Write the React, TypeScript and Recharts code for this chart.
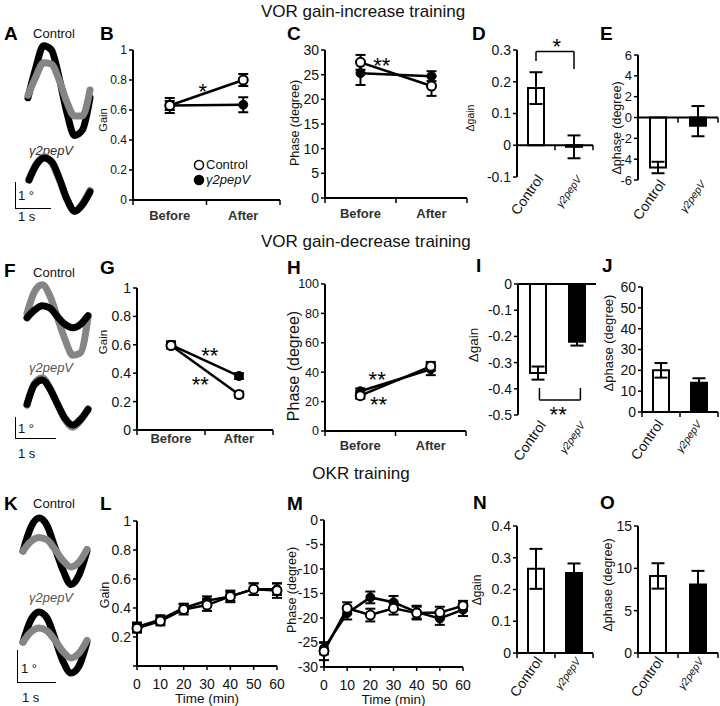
import React from 'react';
import {
  LineChart,
  Line,
  BarChart,
  Bar,
  Cell,
  XAxis,
  YAxis,
  ErrorBar,
  ReferenceLine,
  ReferenceDot,
  Legend,
} from 'recharts';

const FONT = '"Liberation Sans", Arial, Helvetica, sans-serif';
const INK = '#111';
const GRAY = '#858585';

const phases = ['Before', 'After'];
const groups = ['Control', 'γ2pepV'];
const minutes = [0, 10, 20, 30, 40, 50, 60];

// B – gain, gain-increase
const gainUpCtrl = [0.63, 0.8];
const gainUpCtrlErr = [0.05, 0.04];
const gainUpPep = [0.63, 0.635];
const gainUpPepErr = [0.03, 0.05];
// C – phase, gain-increase
const phaseUpCtrl = [27.5, 22.7];
const phaseUpCtrlErr = [1.5, 2];
const phaseUpPep = [25.3, 24.7];
const phaseUpPepErr = [2.4, 1];
// D, E – deltas, gain-increase ([down, up] errors)
const dGainUp = [0.18, -0.005];
const dGainUpErr = [[0.05, 0.05], [0.036, 0.036]];
const dPhaseUp = [-4.8, -0.8];
const dPhaseUpErr = [[0.55, 0.55], [1.0, 1.9]];
// G – gain, gain-decrease
const gainDownCtrl = [0.595, 0.25];
const gainDownCtrlErr = [0.02, 0.02];
const gainDownPep = [0.6, 0.38];
const gainDownPepErr = [0.025, 0.02];
// H – phase, gain-decrease
const phaseDownCtrl = [24, 44];
const phaseDownCtrlErr = [2, 3];
const phaseDownPep = [27, 42];
const phaseDownPepErr = [2, 4];
// I, J – deltas, gain-decrease
const dGainDown = [-0.34, -0.22];
const dGainDownErr = [[0.025, 0.025], [0.015, 0.015]];
const dPhaseDown = [20, 14];
const dPhaseDownErr = [[3.5, 3.5], [2.2, 2.2]];
// L – OKR gain
const okrGainCtrl = [0.26, 0.31, 0.39, 0.42, 0.48, 0.53, 0.52];
const okrGainCtrlErr = [0.03, 0.03, 0.035, 0.04, 0.04, 0.04, 0.05];
const okrGainPep = [0.27, 0.32, 0.4, 0.45, 0.48, 0.53, 0.53];
const okrGainPepErr = [0.03, 0.03, 0.03, 0.03, 0.03, 0.04, 0.04];
// M – OKR phase
const okrPhaseCtrl = [-26.8, -18, -19.4, -18, -19, -18.9, -17.5];
const okrPhaseCtrlErr = [1.8, 1.2, 1.3, 1.3, 1.3, 1.2, 1];
const okrPhasePep = [-26.2, -19, -15.8, -16.8, -18.8, -20.1, -18.3];
const okrPhasePepErr = [1.2, 1.3, 1.2, 1.3, 1.3, 1.3, 1.3];
// N, O – OKR deltas
const dGainOkr = [0.265, 0.252];
const dGainOkrErr = [[0.063, 0.063], [0.03, 0.03]];
const dPhaseOkr = [9.1, 8.1];
const dPhaseOkrErr = [[1.5, 1.5], [1.6, 1.6]];

// eye-movement traces (deg), 9 samples over one cycle
const traceAUpBlack = [-0.3, 0.85, 1.7, 1.55, 0.5, -0.85, -1.75, -1.55, -0.3];
const traceAUpGray = [-0.2, 0.5, 1.05, 1.0, 0.4, -0.45, -1.0, -1.0, 0];
const traceAPepBlack = [0.15, 0.75, 1.0, 0.85, 0.2, -0.6, -1.05, -0.8, -0.3];
const traceAPepGray = [0.2, 0.8, 1.05, 0.8, 0.15, -0.6, -1.05, -0.75, -0.25];
const traceFCtrlBlack = [0.1, 0.45, 0.65, 0.55, 0.15, -0.2, -0.35, -0.2, 0.2];
const traceFCtrlGray = [0.3, 1.3, 1.6, 1.1, 0.1, -0.9, -1.6, -1.5, 0.1];
const traceFPepBlack = [-0.1, 0.8, 1.0, 0.6, -0.1, -0.75, -1.05, -0.8, -0.35];
const traceFPepGray = [-0.15, 0.85, 1.1, 0.65, -0.1, -0.8, -1.15, -0.85, -0.3];
const traceKCtrlBlack = [0, 0.75, 1.03, 0.8, 0.1, -0.6, -1.05, -0.75, 0];
const traceKCtrlGray = [0, 0.3, 0.42, 0.35, 0.05, -0.3, -0.5, -0.35, 0.05];
const traceKPepBlack = [0, 0.7, 0.94, 0.75, 0.1, -0.6, -0.97, -0.75, 0];
const traceKPepGray = [0, 0.32, 0.44, 0.35, 0.05, -0.3, -0.5, -0.35, 0.05];

const pairRows = (ctrl: number[], ctrlErr: number[], pep: number[], pepErr: number[]) =>
  phases.map((phase, i) => ({ phase, x: i + 0.5, ctrl: ctrl[i], ctrlErr: ctrlErr[i], pep: pep[i], pepErr: pepErr[i] }));

const timeRows = (ctrl: number[], ctrlErr: number[], pep: number[], pepErr: number[]) =>
  minutes.map((t, i) => ({ t, ctrl: ctrl[i], ctrlErr: ctrlErr[i], pep: pep[i], pepErr: pepErr[i] }));

const barRows = (vals: number[], errs: number[][]) =>
  groups.map((group, i) => ({ group, x: i + 0.5, v: vals[i], err: errs[i] }));

type Box = { l: number; t: number; r: number; b: number };
const PAD_L = 70;
const PAD_R = 14;

function frame(box: Box, bottom: number, padT = 14) {
  return {
    style: { position: 'absolute' as const, left: box.l - PAD_L, top: box.t - padT },
    width: PAD_L + box.r - box.l + PAD_R,
    height: padT + box.b - box.t + bottom,
    margin: { top: padT, right: PAD_R, bottom: 0, left: 0 },
  };
}

const yAxisProps = (domain: number[], ticks: number[], fs: number) => ({
  type: 'number' as const,
  domain,
  ticks,
  width: PAD_L,
  interval: 0,
  tickSize: 4,
  tickMargin: 2,
  axisLine: { stroke: '#000', strokeWidth: 2 },
  tickLine: { stroke: '#000', strokeWidth: 1.5 },
  tick: { fontSize: fs, fill: INK, fontFamily: FONT },
});

const AxisTitle = (props: any) => {
  const { viewBox, text, dx = 0, cy = 0, fs = 12 } = props;
  if (!viewBox) return null;
  const x = viewBox.x + dx;
  const y = viewBox.y + viewBox.height / 2 + cy;
  return (
    <text x={x} y={y} transform={`rotate(-90 ${x} ${y})`} textAnchor="middle" dominantBaseline="central"
      fontFamily={FONT} fontSize={fs} fill={INK}>{text}</text>
  );
};

const TimeTitle = (props: any) => {
  const { viewBox } = props;
  if (!viewBox) return null;
  return (
    <text x={viewBox.x + viewBox.width / 2} y={viewBox.y + 37} textAnchor="middle" fontFamily={FONT} fontSize={13.5} fill={INK}>
      Time (min)
    </text>
  );
};

const Star = (props: any) => {
  const { viewBox, text = '*', fs = 22 } = props;
  if (!viewBox) return null;
  const x = viewBox.x + (viewBox.width || 0) / 2;
  const y = viewBox.y + (viewBox.height || 0) / 2;
  return (
    <text x={x} y={y + fs * 0.55} textAnchor="middle" fontFamily={FONT} fontSize={fs} fill="#000">{text}</text>
  );
};

const PhaseTick = (props: any) => {
  const { x, y, payload, gap = 20 } = props;
  const v = payload.value;
  if (Number.isInteger(v)) return <line x1={x} x2={x} y1={y} y2={y + 5} stroke="#000" strokeWidth={1.5} />;
  return (
    <text x={x} y={y + gap} textAnchor="middle" fontFamily={FONT} fontSize={13} fontWeight={700} fill="#333">
      {phases[Math.floor(v)]}
    </text>
  );
};

const GroupTick = (props: any) => {
  const { x, y, payload, ox = 7, oy = 6, ln = true } = props;
  const v = payload.value;
  if (Number.isInteger(v)) {
    return ln ? <line x1={x} x2={x} y1={y} y2={y + 5} stroke="#000" strokeWidth={1.5} /> : null;
  }
  const i = Math.floor(v);
  const tx = x + ox;
  const ty = y + oy;
  return (
    <text x={tx} y={ty} textAnchor="end" transform={`rotate(-55 ${tx} ${ty})`} fontFamily={FONT}
      fontSize={i ? 10.5 : 14} fontStyle={i ? 'italic' : 'normal'} fill={INK}>
      {groups[i]}
    </text>
  );
};

const PairLegend = () => (
  <div style={{ fontFamily: FONT, fontSize: 13, lineHeight: '15px', color: INK }}>
    {groups.map((g, i) => (
      <div key={g} style={{ display: 'flex', alignItems: 'center' }}>
        <svg width={12} height={12} style={{ marginRight: 1 }}>
          <circle cx={6} cy={6} r={4.5} fill={i ? '#000' : '#fff'} stroke="#000" strokeWidth={1.5} />
        </svg>
        <span style={{ fontStyle: i ? 'italic' : 'normal' }}>{g}</span>
      </div>
    ))}
  </div>
);

const series = (err: number) => [
  <Line key="pep" dataKey="pep" name={groups[1]} stroke="#000" strokeWidth={2.5} isAnimationActive={false}
    dot={{ r: 4.5, fill: '#000', stroke: '#000', strokeWidth: 1 }} activeDot={false}>
    <ErrorBar dataKey="pepErr" direction="y" width={err} stroke="#000" strokeWidth={2} />
  </Line>,
  <Line key="ctrl" dataKey="ctrl" name={groups[0]} stroke="#000" strokeWidth={2.5} isAnimationActive={false}
    dot={{ r: 4.5, fill: '#fff', stroke: '#000', strokeWidth: 2 }} activeDot={false}>
    <ErrorBar dataKey="ctrlErr" direction="y" width={err} stroke="#000" strokeWidth={2} />
  </Line>,
];

function PairPanel(props: any) {
  const { box, rows, yDomain, yTicks, fs, title, titleX, titleY, titleFs, gap, children } = props;
  const f = frame(box, 40, 20);
  return (
    <div style={f.style}>
      <LineChart width={f.width} height={f.height} data={rows} margin={f.margin}>
        <XAxis dataKey="x" type="number" domain={[0, 2]} ticks={[0, 0.5, 1, 1.5, 2]} interval={0} height={40}
          tickSize={0} tickMargin={0} tickLine={false} axisLine={{ stroke: '#000', strokeWidth: 2 }}
          tick={<PhaseTick gap={gap} />} />
        <YAxis {...yAxisProps(yDomain, yTicks, fs)}
          label={<AxisTitle text={title} dx={titleX - (box.l - PAD_L)} cy={titleY - (box.t + box.b) / 2} fs={titleFs} />} />
        {series(5)}
        {children}
      </LineChart>
    </div>
  );
}

function TimePanel(props: any) {
  const { box, rows, yDomain, yTicks, yTickLabels, title, titleX, titleY, titleFs } = props;
  const f = frame(box, 40);
  return (
    <div style={f.style}>
      <LineChart width={f.width} height={f.height} data={rows} margin={f.margin}>
        <XAxis dataKey="t" type="number" domain={[0, 60]} ticks={minutes} interval={0} height={40}
          tickSize={4} tickMargin={9} axisLine={{ stroke: '#000', strokeWidth: 2 }}
          tickLine={{ stroke: '#000', strokeWidth: 1.5 }} tick={{ fontSize: 14, fill: INK, fontFamily: FONT }}
          label={<TimeTitle />} />
        <YAxis {...yAxisProps(yDomain, yTicks, 14)} tickFormatter={(v: number) => (yTickLabels ? yTickLabels(v) : String(v))}
          label={<AxisTitle text={title} dx={titleX - (box.l - PAD_L)} cy={titleY - (box.t + box.b) / 2} fs={titleFs} />} />
        {series(5)}
      </LineChart>
    </div>
  );
}

function DeltaPanel(props: any) {
  const { box, rows, yDomain, yTicks, fs, title, titleX, titleY, titleFs, mode, zeroTick, ox, oy, children } = props;
  const topMode = mode === 'top';
  const f = frame(box, 64, 26);
  const margin = topMode ? { ...f.margin, top: f.margin.top - 6 } : f.margin;
  return (
    <div style={f.style}>
      <BarChart width={f.width} height={f.height} data={rows} margin={margin}>
        {topMode && (
          <XAxis xAxisId="top" orientation="top" type="number" domain={[0, 2]} ticks={[0, 1, 2]} interval={0} height={6}
            tickSize={4} tick={false} axisLine={{ stroke: '#000', strokeWidth: 2 }} tickLine={{ stroke: '#000', strokeWidth: 1.5 }} />
        )}
        <XAxis dataKey="x" type="number" domain={[0, 2]} ticks={mode === 'bottom' ? [0, 0.5, 1, 1.5, 2] : [0.5, 1.5]}
          interval={0} height={64} tickSize={0} tickMargin={0} tickLine={false}
          axisLine={mode === 'bottom' ? { stroke: '#000', strokeWidth: 2 } : false}
          tick={<GroupTick ox={ox} oy={oy} ln={mode === 'bottom'} />} />
        <YAxis {...yAxisProps(yDomain, yTicks, fs)}
          label={<AxisTitle text={title} dx={titleX - (box.l - PAD_L)} cy={titleY - (box.t + box.b) / 2} fs={titleFs} />} />
        {mode === 'zero' && <ReferenceLine y={0} stroke="#000" strokeWidth={2} />}
        {mode === 'zero' && [1, 2].map((k) => (
          <ReferenceLine key={k} segment={[{ x: k, y: 0 }, { x: k, y: -zeroTick }]} stroke="#000" strokeWidth={1.5} ifOverflow="visible" />
        ))}
        <Bar dataKey="v" barSize={16} stroke="#000" strokeWidth={2} isAnimationActive={false}>
          {rows.map((r: any, i: number) => (
            <Cell key={r.group} fill={i ? '#000' : '#fff'} />
          ))}
          <ErrorBar dataKey="err" direction="y" width={6.5} stroke="#000" strokeWidth={2} />
        </Bar>
        {children}
      </BarChart>
    </div>
  );
}

function Trace(props: any) {
  const { left, top, width, range, black, gray, grayOnTop } = props;
  const rows = black.map((b: number, i: number) => ({ t: i, black: b, gray: gray[i] }));
  const g = (
    <Line key="g" dataKey="gray" type="monotone" stroke={GRAY} strokeWidth={7} strokeLinecap="round"
      dot={false} activeDot={false} isAnimationActive={false} />
  );
  const k = (
    <Line key="k" dataKey="black" type="monotone" stroke="#000" strokeWidth={7} strokeLinecap="round"
      dot={false} activeDot={false} isAnimationActive={false} />
  );
  return (
    <div style={{ position: 'absolute', left: left - 5, top }}>
      <LineChart width={width + 10} height={120} data={rows} margin={{ top: 0, right: 5, bottom: 0, left: 5 }}>
        <XAxis dataKey="t" type="number" domain={[0, 8]} hide />
        <YAxis type="number" domain={[-range, range]} hide />
        {grayOnTop ? [k, g] : [g, k]}
      </LineChart>
    </div>
  );
}

const txt = (text: string, x: number, cy: number, fs: number, extra: React.CSSProperties = {}) => (
  <div style={{ position: 'absolute', left: x, top: cy - fs * 0.49, fontFamily: FONT, fontSize: fs, lineHeight: `${fs}px`, color: INK, whiteSpace: 'nowrap', ...extra }}>
    {text}
  </div>
);

const centered = (text: string, cx: number, cy: number, fs: number, extra: React.CSSProperties = {}) => (
  <div style={{ position: 'absolute', left: cx - 100, width: 200, textAlign: 'center', top: cy - fs * 0.49, fontFamily: FONT, fontSize: fs, lineHeight: `${fs}px`, color: INK, whiteSpace: 'nowrap', ...extra }}>
    {text}
  </div>
);

const letter = (text: string, x: number, cy: number) => txt(text, x, cy, 19, { fontWeight: 700, color: '#000' });

function ScaleBar({ x, top, bottom, right }: any) {
  return (
    <div style={{ position: 'absolute', left: x, top, width: right - x, height: bottom - top, borderLeft: '1.5px solid #000', borderBottom: '1.5px solid #000' }} />
  );
}

export default function App() {
  return (
    <div style={{ position: 'absolute', left: 0, top: 0, width: 720, height: 706, overflow: 'hidden', background: '#fff' }}>
      {centered('VOR  gain-increase training', 361, 11, 17)}
      {centered('VOR gain-decrease training', 361, 241, 17)}
      {centered('OKR training', 361, 473, 17)}

      {letter('A', 4, 33)}
      {letter('B', 100, 33)}
      {letter('C', 287, 33)}
      {letter('D', 472, 33)}
      {letter('E', 600, 33)}
      {letter('F', 4, 270)}
      {letter('G', 100, 267)}
      {letter('H', 287, 267)}
      {letter('I', 476, 265)}
      {letter('J', 602, 265)}
      {letter('K', 4, 503)}
      {letter('L', 100, 503)}
      {letter('M', 287, 503)}
      {letter('N', 473, 502)}
      {letter('O', 600, 502)}

      {/* traces */}
      {centered('Control', 54, 33, 13)}
      <Trace left={28} top={30} width={62} range={2.31} black={traceAUpBlack} gray={traceAUpGray} grayOnTop />
      {centered('γ2pepV', 51, 150, 13, { fontStyle: 'italic', color: '#333' })}
      <Trace left={29} top={124} width={61} range={2.31} black={traceAPepBlack} gray={traceAPepGray} />
      <ScaleBar x={15} top={182} bottom={208} right={50} />
      {txt('1 °', 18, 195, 13)}
      {txt('1 s', 18, 216, 13)}

      {centered('Control', 54, 272, 13)}
      <Trace left={27} top={260} width={61} range={2.73} black={traceFCtrlBlack} gray={traceFCtrlGray} />
      {centered('γ2pepV', 51, 367, 13, { fontStyle: 'italic', color: '#555' })}
      <Trace left={27} top={342} width={61} range={2.73} black={traceFPepBlack} gray={traceFPepGray} />
      <ScaleBar x={15} top={417} bottom={438} right={55} />
      {txt('1 °', 18, 428, 13)}
      {txt('1 s', 18, 453, 13)}

      {centered('Control', 54, 503, 13)}
      <Trace left={23} top={491} width={64} range={1.875} black={traceKCtrlBlack} gray={traceKCtrlGray} grayOnTop />
      {centered('γ2pepV', 51, 597, 13, { fontStyle: 'italic', color: '#555' })}
      <Trace left={23} top={582} width={64} range={1.875} black={traceKPepBlack} gray={traceKPepGray} grayOnTop />
      <ScaleBar x={17} top={650} bottom={682} right={55} />
      {txt('1 °', 21, 668, 13)}
      {txt('1 s', 22, 697, 13)}

      {/* B */}
      <PairPanel box={{ l: 133, t: 50, r: 280, b: 200 }} rows={pairRows(gainUpCtrl, gainUpCtrlErr, gainUpPep, gainUpPepErr)}
        yDomain={[0, 1]} yTicks={[0, 0.2, 0.4, 0.6, 0.8, 1]} fs={12} title="Gain" titleX={103} titleY={120} titleFs={11} gap={20}>
        <Legend layout="vertical" align="center" verticalAlign="middle" content={<PairLegend />}
          wrapperStyle={{ left: 130, top: 127, width: 'auto', height: 'auto' }} />
        <ReferenceDot x={0.95} y={0.753} r={1} fill="none" stroke="none" label={<Star text="*" />} />
      </PairPanel>

      {/* C */}
      <PairPanel box={{ l: 325, t: 50, r: 467, b: 198 }} rows={pairRows(phaseUpCtrl, phaseUpCtrlErr, phaseUpPep, phaseUpPepErr)}
        yDomain={[0, 30]} yTicks={[0, 5, 10, 15, 20, 25, 30]} fs={14} title="Phase (degree)" titleX={295} titleY={123} titleFs={12.5} gap={20}>
        <ReferenceDot x={0.8} y={27.8} r={1} fill="none" stroke="none" label={<Star text="**" />} />
      </PairPanel>

      {/* D */}
      <DeltaPanel box={{ l: 517, t: 50, r: 593, b: 177 }} rows={barRows(dGainUp, dGainUpErr)} mode="zero" zeroTick={0.016}
        yDomain={[-0.1, 0.3]} yTicks={[-0.1, 0, 0.1, 0.2, 0.3]} fs={14} title="Δgain" titleX={470} titleY={118} titleFs={10.5} ox={8} oy={2}>
        <ReferenceLine segment={[{ x: 0.5, y: 0.265 }, { x: 0.5, y: 0.295 }]} stroke="#000" strokeWidth={1.5} ifOverflow="visible" />
        <ReferenceLine segment={[{ x: 0.5, y: 0.295 }, { x: 1.5, y: 0.295 }]} stroke="#000" strokeWidth={1.5} ifOverflow="visible" />
        <ReferenceLine segment={[{ x: 1.5, y: 0.295 }, { x: 1.5, y: 0.24 }]} stroke="#000" strokeWidth={1.5} ifOverflow="visible" />
        <ReferenceDot x={1.05} y={0.325} r={1} fill="none" stroke="none" ifOverflow="visible" label={<Star text="*" />} />
      </DeltaPanel>

      {/* E */}
      <DeltaPanel box={{ l: 638, t: 55, r: 718, b: 180 }} rows={barRows(dPhaseUp, dPhaseUpErr)} mode="zero" zeroTick={0.5}
        yDomain={[-6, 6]} yTicks={[-6, -4, -2, 0, 2, 4, 6]} fs={13} title="Δphase (degree)" titleX={617} titleY={128} titleFs={12.5} ox={8} oy={4} />

      {/* G */}
      <PairPanel box={{ l: 137, t: 288, r: 273, b: 430 }} rows={pairRows(gainDownCtrl, gainDownCtrlErr, gainDownPep, gainDownPepErr)}
        yDomain={[0, 1]} yTicks={[0, 0.2, 0.4, 0.6, 0.8, 1]} fs={14} title="Gain" titleX={103} titleY={342} titleFs={11.5} gap={13}>
        <ReferenceDot x={1.07} y={0.556} r={1} fill="none" stroke="none" label={<Star text="**" />} />
        <ReferenceDot x={0.93} y={0.352} r={1} fill="none" stroke="none" label={<Star text="**" />} />
      </PairPanel>

      {/* H */}
      <PairPanel box={{ l: 325, t: 284, r: 466, b: 431 }} rows={pairRows(phaseDownCtrl, phaseDownCtrlErr, phaseDownPep, phaseDownPepErr)}
        yDomain={[0, 100]} yTicks={[0, 20, 40, 60, 80, 100]} fs={12.5} title="Phase (degree)" titleX={293} titleY={366} titleFs={16} gap={19}>
        <ReferenceDot x={0.74} y={38} r={1} fill="none" stroke="none" label={<Star text="**" />} />
        <ReferenceDot x={0.76} y={21} r={1} fill="none" stroke="none" label={<Star text="**" />} />
      </PairPanel>

      {/* I */}
      <DeltaPanel box={{ l: 518, t: 284, r: 596, b: 415 }} rows={barRows(dGainDown, dGainDownErr)} mode="top"
        yDomain={[-0.5, 0]} yTicks={[-0.5, -0.4, -0.3, -0.2, -0.1, 0]} fs={14} title="Δgain" titleX={473} titleY={345} titleFs={13.5} ox={9} oy={10}>
        <ReferenceLine segment={[{ x: 0.55, y: -0.397 }, { x: 0.55, y: -0.443 }]} stroke="#000" strokeWidth={1.5} />
        <ReferenceLine segment={[{ x: 0.55, y: -0.443 }, { x: 1.6, y: -0.443 }]} stroke="#000" strokeWidth={1.5} />
        <ReferenceLine segment={[{ x: 1.6, y: -0.443 }, { x: 1.6, y: -0.397 }]} stroke="#000" strokeWidth={1.5} />
        <ReferenceDot x={1.03} y={-0.48} r={1} fill="none" stroke="none" label={<Star text="**" />} />
      </DeltaPanel>

      {/* J */}
      <DeltaPanel box={{ l: 642, t: 287, r: 718, b: 412 }} rows={barRows(dPhaseDown, dPhaseDownErr)} mode="bottom"
        yDomain={[0, 60]} yTicks={[0, 10, 20, 30, 40, 50, 60]} fs={14} title="Δphase (degree)" titleX={608} titleY={343} titleFs={13} ox={3} oy={12} />

      {/* L */}
      <TimePanel box={{ l: 137, t: 521, r: 277, b: 666 }} rows={timeRows(okrGainCtrl, okrGainCtrlErr, okrGainPep, okrGainPepErr)}
        yDomain={[0, 1]} yTicks={[0, 0.2, 0.4, 0.6, 0.8, 1]} yTickLabels={(v: number) => (v === 0 ? '' : String(v))}
        title="Gain" titleX={105} titleY={595} titleFs={12.5} />

      {/* M */}
      <TimePanel box={{ l: 324, t: 520, r: 463, b: 667 }} rows={timeRows(okrPhaseCtrl, okrPhaseCtrlErr, okrPhasePep, okrPhasePepErr)}
        yDomain={[-30, 0]} yTicks={[-30, -25, -20, -15, -10, -5, 0]}
        title="Phase (degree)" titleX={292} titleY={590} titleFs={12.5} />

      {/* N */}
      <DeltaPanel box={{ l: 517, t: 526, r: 593, b: 653 }} rows={barRows(dGainOkr, dGainOkrErr)} mode="bottom"
        yDomain={[0, 0.4]} yTicks={[0, 0.1, 0.2, 0.3, 0.4]} fs={14} title="Δgain" titleX={477} titleY={590} titleFs={12} ox={7} oy={8} />

      {/* O */}
      <DeltaPanel box={{ l: 638, t: 526, r: 718, b: 653 }} rows={barRows(dPhaseOkr, dPhaseOkrErr)} mode="bottom"
        yDomain={[0, 15]} yTicks={[0, 5, 10, 15]} fs={14} title="Δphase (degree)" titleX={608} titleY={585} titleFs={12.5} ox={6} oy={8} />
    </div>
  );
}
